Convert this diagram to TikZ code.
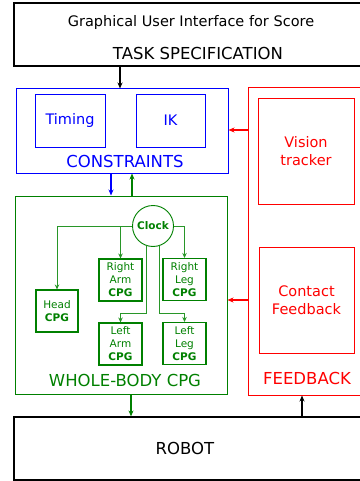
\documentclass[tikz,border=0pt]{standalone}
\usepackage{fontspec}
\setmainfont{DejaVu Sans}
\usetikzlibrary{arrows.meta}
\definecolor{cpggreen}{RGB}{0,128,0}
\definecolor{cpgline}{RGB}{40,150,40}

\begin{document}
\begin{tikzpicture}[x=1pt,y=-1pt,>={Stealth[length=6pt,width=5pt]},
    box/.style={draw,rectangle,inner sep=0pt,line width=1.2pt},
    sub/.style={draw,rectangle,inner sep=0pt,line width=0.9pt,align=center,font=\fontsize{14.5}{18}\selectfont},
    cpg/.style={draw=cpggreen,rectangle,inner sep=0pt,line width=1.1pt,text=cpggreen,align=center,
                minimum width=43pt,minimum height=42pt,font=\fontsize{10.5}{13}\selectfont},
    title/.style={inner sep=0pt,font=\fontsize{16.5}{18}\selectfont}]
    \useasboundingbox (0,0) rectangle (359,481);

    % Task
    \node[box,minimum width=351pt,minimum height=63pt] (task) at (189.5,34.5) {};
    \node[inner sep=0pt,font=\fontsize{14.5}{16}\selectfont] (gui) at (191,23) {Graphical User Interface for Score};
    \node[title] (taskt) at (198,53) {TASK SPECIFICATION};

    % Constraints
    \node[box,draw=blue,line width=1pt,minimum width=212pt,minimum height=84pt] (cons) at (122,131) {};
    \node[sub,draw=blue,text=blue,minimum width=70pt,minimum height=53pt] (timing) at (70,120.5) {Timing};
    \node[sub,draw=blue,text=blue,minimum width=69pt,minimum height=53pt] (ik) at (170.5,120.5) {IK};
    \node[title,text=blue] (const) at (125,161) {CONSTRAINTS};

    % Whole-body CPG
    \node[box,draw=cpggreen,line width=1pt,minimum width=212pt,minimum height=198pt] (wb) at (121,295) {};
    \node[circle,draw=cpggreen,line width=0.9pt,minimum size=41pt,inner sep=0pt,text=cpggreen,
          font=\fontsize{10.5}{13}\selectfont\bfseries] (clock) at (153,226) {Clock};
    \node[cpg] (rarm) at (120.5,280) {Right\\Arm\\\textbf{CPG}};
    \node[cpg] (rleg) at (184.5,279.5) {Right\\Leg\\\textbf{CPG}};
    \node[cpg,minimum width=42pt] (head) at (57,311) {Head\\\textbf{CPG}};
    \node[cpg] (larm) at (120.5,344) {Left\\Arm\\\textbf{CPG}};
    \node[cpg] (lleg) at (184.5,343.5) {Left\\Leg\\\textbf{CPG}};
    \node[title,text=cpggreen] (wbt) at (125,380) {WHOLE-BODY CPG};

    \begin{scope}[draw=cpgline,line width=0.8pt,->,>={Stealth[length=5pt,width=4.5pt]},color=cpgline]
        \draw (clock.west) -| (head.north);
        \draw (clock.west) -| (rarm.north);
        \draw (clock.east) -| (rleg.north);
        \draw (clock.253) -- (clock.253 |- 0,313) -| (larm.north);
        \draw (clock.287) -- (clock.287 |- 0,313) -| (lleg.north);
    \end{scope}

    % Feedback
    \node[box,draw=red,line width=1pt,minimum width=117pt,minimum height=307pt] (fb) at (306.5,241.5) {};
    \node[sub,draw=red,text=red,minimum width=96pt,minimum height=106pt] (vision) at (306,151) {Vision\\tracker};
    \node[sub,draw=red,text=red,minimum width=95pt,minimum height=106pt] (contact) at (306.5,300) {Contact\\Feedback};
    \node[title,text=red] (fbt) at (307,378) {FEEDBACK};

    % Robot
    \node[box,minimum width=351pt,minimum height=63pt] (robot) at (189.5,448.5) {};
    \node[title] (robott) at (185,448) {ROBOT};

    % Pfeile
    \draw[->,line width=1.2pt] (task.south -| 120,0) -- (cons.north -| 120,0);
    \draw[->,blue,line width=1.2pt] (cons.south -| 111,0) -- (wb.north -| 111,0);
    \draw[->,cpggreen,line width=1.2pt] (wb.north -| 132,0) -- (cons.south -| 132,0);
    \draw[->,red,line width=1.2pt] (fb.west |- 0,130) -- (cons.east |- 0,130);
    \draw[->,red,line width=1.2pt] (fb.west |- 0,300) -- (wb.east |- 0,300);
    \draw[->,cpggreen,line width=1.2pt] (wb.south -| 131,0) -- (robot.north -| 131,0);
    \draw[->,line width=1.2pt] (robot.north -| 302,0) -- (fb.south -| 302,0);
\end{tikzpicture}
\end{document}
